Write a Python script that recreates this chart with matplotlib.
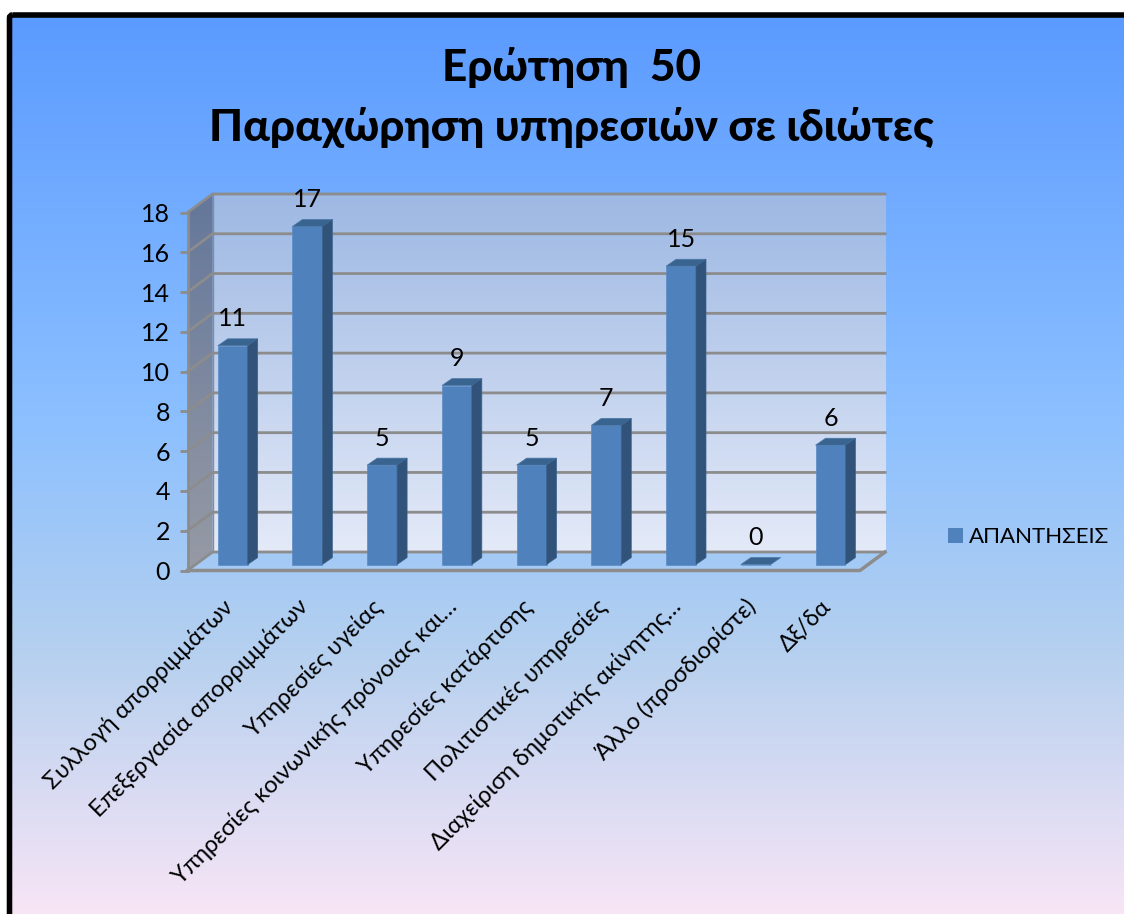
import numpy as np
import matplotlib
matplotlib.use("Agg")
from matplotlib import pyplot as plt
from matplotlib.colors import LinearSegmentedColormap
from matplotlib.patches import Polygon, Patch, FancyBboxPatch

categories = ["Συλλογή απορριμμάτων", "Επεξεργασία απορριμμάτων", "Υπηρεσίες υγείας",
              "Υπηρεσίες κοινωνικής πρόνοιας και…", "Υπηρεσίες κατάρτισης",
              "Πολιτιστικές υπηρεσίες", "Διαχείριση δημοτικής ακίνητης…",
              "Άλλο (προσδιορίστε)", "Δξ/δα"]
values = [11, 17, 5, 9, 5, 7, 15, 0, 6]
y_ticks = [0, 2, 4, 6, 8, 10, 12, 14, 16, 18]
series_name = "ΑΠΑΝΤΗΣΕΙΣ"

plt.rcParams['font.family'] = ['Lato', 'Noto Sans', 'DejaVu Sans']

W, H = 1124, 914
fig = plt.figure(figsize=(W / 100, H / 100), dpi=100, facecolor='white')

# page background with the black frame
bg = fig.add_axes([0, 0, 1, 1], zorder=0)
bg.axis('off')
page_cmap = LinearSegmentedColormap.from_list('page', [(0, '#5b9bff'), (0.45, '#8cc0ff'), (0.7, '#b5d0ef'), (1, '#fae6f6')])
grad = np.linspace(0, 1, 256).reshape(-1, 1)
bg.imshow(grad, cmap=page_cmap, extent=[10, W + 10, H + 10, 15], aspect='auto', zorder=1)
frame = FancyBboxPatch((9.5, 15), W + 30, H + 30, boxstyle='round,pad=0,rounding_size=3', fc='none', ec='black', lw=4, zorder=2)
bg.add_patch(frame)
bg.set_xlim(0, W)
bg.set_ylim(H, 0)

# axes sits on the front plane of the 3d box
ax = fig.add_axes([187.5 / W, 1 - 570.5 / H, 672.5 / W, 358 / H], zorder=1)
ax.patch.set_alpha(0)
n = len(categories)
for s in ax.spines.values():
    s.set_visible(False)

depth_x, depth_y = 0.335, 0.93
bar_dx, bar_dy = 0.134, 0.35
bar_w = 0.40
base = 0.3
shift = 0.105
grid_col = '#8c8c8c'

# back wall and side wall
wall_cmap = LinearSegmentedColormap.from_list('wall', ['#9db8e3', '#e4eaf8'])
ax.imshow(grad, cmap=wall_cmap, extent=[depth_x, n + depth_x, depth_y, 18 + depth_y], aspect='auto', zorder=1, clip_on=False)
side_cmap = LinearSegmentedColormap.from_list('side', ['#64779a', '#979aa5'])
side = ax.imshow(grad, cmap=side_cmap, extent=[0, depth_x, 0, 18 + depth_y], aspect='auto', zorder=1)
side_poly = Polygon([(0, 0), (0, 18), (depth_x, 18 + depth_y), (depth_x, depth_y)], fc='none', ec='none', clip_on=False)
ax.add_patch(side_poly)
side.set_clip_path(side_poly)
side.set_clip_box(fig.bbox)
ax.set_xlim(0, n)
ax.set_ylim(0, 18)

for t in y_ticks:
    ax.plot([0, depth_x, n + depth_x], [t, t + depth_y, t + depth_y], color=grid_col, lw=2, zorder=2, clip_on=False, solid_joinstyle='miter')
ax.plot([0, 0], [0, 18], color=grid_col, lw=2, zorder=2, clip_on=False)
ax.plot([depth_x, depth_x], [depth_y, 18 + depth_y], color=grid_col, lw=1, zorder=2, clip_on=False)
ax.plot([0, n, n + depth_x], [0, 0, depth_y], color=grid_col, lw=2.5, zorder=2, clip_on=False)

# bars
x = np.arange(n) + 0.5 + shift
tops = np.array(values) + base
ax.bar(x, values, width=bar_w, bottom=base, color='#4f81bd', edgecolor='#5a8bc6', lw=0.5, zorder=3)
for xi, top, v in zip(x, tops, values):
    l, r = xi - bar_w / 2, xi + bar_w / 2
    ax.add_patch(Polygon([(l, top), (r, top), (r + bar_dx, top + bar_dy), (l + bar_dx, top + bar_dy)], fc='#3a6490', ec='#4a78a8', lw=0.5, zorder=4, clip_on=False))
    if v > 0:
        ax.add_patch(Polygon([(r, base), (r, top), (r + bar_dx, top + bar_dy), (r + bar_dx, base + bar_dy)], fc='#315279', ec='#3a6490', lw=0.5, zorder=4, clip_on=False))
    ax.text(xi, top + 1.36, str(v), ha='center', va='center', fontsize=18, color='black', zorder=5)

ax.set_yticks(y_ticks)
ax.set_yticklabels([str(t) for t in y_ticks], fontsize=18, color='black')
ax.tick_params(axis='y', length=5.5, width=2, color=grid_col, pad=7)
ax.set_xticks(np.arange(n) + 0.46)
ax.set_xticklabels(categories, rotation=45, ha='right', rotation_mode='anchor', fontsize=17, color='black')
ax.tick_params(axis='x', length=0, pad=18)

# title
fig.text(571.5 / W, 1 - 67 / H, "Ερώτηση  50", ha='center', va='center', fontsize=31.7, fontweight='black', color='black', zorder=5)
fig.text(571.5 / W, 1 - 127 / H, "Παραχώρηση υπηρεσιών σε ιδιώτες", ha='center', va='center', fontsize=31.7, fontweight='black', color='black', zorder=5)

fig.legend(handles=[Patch(fc='#4f81bd', label=series_name)], loc='center left', bbox_to_anchor=(948 / W, 1 - 537 / H),
           frameon=False, fontsize=16, handlelength=0.675, handleheight=0.675, handletextpad=0.27, borderpad=0, borderaxespad=0)

fig.savefig('out.png', dpi=100)
